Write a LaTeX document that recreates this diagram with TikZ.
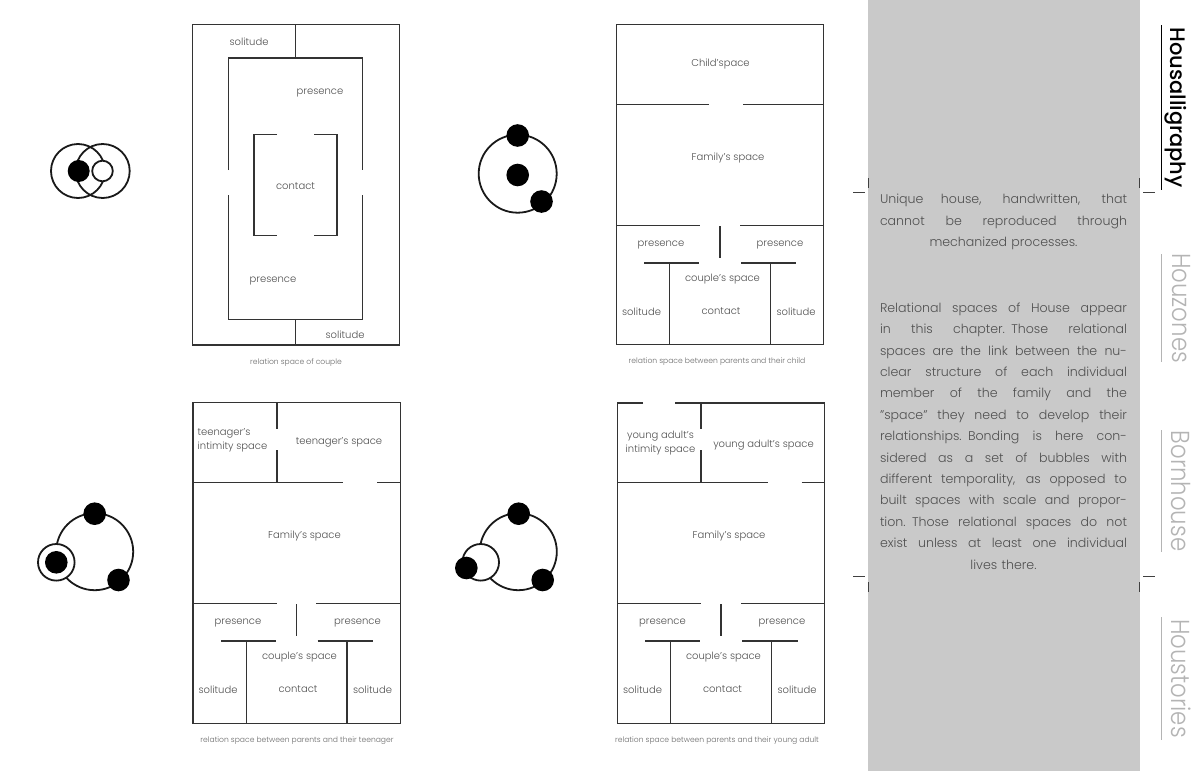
\documentclass[tikz,border=0pt]{standalone}
\usepackage{fontspec}
\setmainfont{Poppins Light}
\newfontfamily\sidefont[FakeStretch=0.88]{Poppins Light}
\newfontfamily\sideboldfont{Poppins Medium}
\definecolor{panelgrey}{HTML}{C9C9C9}
\definecolor{labelgrey}{HTML}{505050}
\definecolor{tabgrey}{HTML}{B4B4B4}
\newcommand{\fillline}[1]{\leavevmode\hbox to 247pt{\spaceskip=0.2em plus 1fil #1}}
\tikzset{
  wall/.style={line width=1.5pt,color=black!80},
  ring/.style={line width=1.8pt,color=black!90},
  dot/.style={fill=black},
  roomlabel/.style={font=\fontsize{10}{14}\selectfont,color=labelgrey,align=center,inner sep=0pt,yshift=-1.5pt},
  caption/.style={font=\fontsize{7.6}{9}\selectfont,color=labelgrey!85,inner sep=0pt,yshift=-1pt},
  bodytext/.style={font=\fontsize{12.6}{21.4}\selectfont,color=labelgrey,align=center,text width=247pt,inner sep=0pt},
  tab/.style={rotate=-90,inner sep=0pt,color=tabgrey,font=\sidefont\fontsize{26}{28}\selectfont},
  crop/.style={line width=0.9pt,color=black!75},
}
\begin{document}
\begin{tikzpicture}[x=1pt,y=-1pt]
  \useasboundingbox (0,0) rectangle (1200,771);
  \fill[panelgrey] (868,0) rectangle (1140,771);

  % bubbles
  \draw[ring] (78,171) circle (27);
  \draw[ring] (102.7,171) circle (27);
  \fill[dot] (78.7,171) circle (11);
  \draw[ring,fill=white] (102.5,171) circle (10.3);

  \draw[ring] (517.7,173.7) circle (39);
  \foreach \x/\y in {517.7/135.5, 517.7/175, 541.5/201.5} {
    \fill[dot] (\x,\y) circle (11.3);
  }

  \draw[ring] (94.7,551.7) circle (38.5);
  \foreach \x/\y in {94.7/513.7, 118.5/580} {
    \fill[dot] (\x,\y) circle (11.3);
  }
  \draw[ring,fill=white] (56.3,562.3) circle (18.3);
  \fill[dot] (56.3,562.3) circle (11.3);

  \draw[ring] (518.3,551.7) circle (38.5);
  \foreach \x/\y in {518.7/513.7, 542.7/580} {
    \fill[dot] (\x,\y) circle (11.3);
  }
  \draw[ring,fill=white] (480.7,562.3) circle (18.3);
  \fill[dot] (466.3,568) circle (11.3);

  % couple
  \draw[wall] (192.5,24.5) rectangle (399.5,345);
  \draw[wall] (295.5,24.5) -- (295.5,58);
  \draw[wall] (228.5,170) -- (228.5,58) -- (362.5,58) -- (362.5,170);
  \draw[wall] (228.5,195) -- (228.5,319.5) -- (362.5,319.5) -- (362.5,195);
  \draw[wall] (295.5,319.5) -- (295.5,345);
  \draw[wall] (277,134.5) -- (254,134.5) -- (254,235.5) -- (277,235.5);
  \draw[wall] (314,134.5) -- (337,134.5) -- (337,235.5) -- (314,235.5);
  \node[roomlabel] (solitudeA) at (249,40) {solitude};
  \node[roomlabel] (presenceA) at (320,92) {presence};
  \node[roomlabel] (contactA) at (295.5,185) {contact};
  \node[roomlabel] (presenceB) at (273,280) {presence};
  \node[roomlabel] (solitudeB) at (345,333) {solitude};
  \node[caption] (captionA) at (296,362) {relation space of couple};

  % parents and child
  \draw[wall] (616.5,24.5) rectangle (823.5,344.5);
  \draw[wall] (616.5,104.5) -- (709,104.5);
  \draw[wall] (743,104.5) -- (823.5,104.5);
  \draw[wall] (616.5,225.5) -- (700,225.5);
  \draw[wall] (740,225.5) -- (823.5,225.5);
  \draw[wall] (720,226) -- (720,258);
  \draw[wall] (644,263) -- (699,263);
  \draw[wall] (741,263) -- (796,263);
  \draw[wall] (669.5,263) -- (669.5,344.5);
  \draw[wall] (770.5,263) -- (770.5,344.5);
  \node[roomlabel] (childC) at (720.5,63) {Child'space};
  \node[roomlabel] (familyC) at (728,157) {Family's space};
  \node[roomlabel] (presenceC) at (661,244) {presence};
  \node[roomlabel] (presenceD) at (780,244) {presence};
  \node[roomlabel] (coupleC) at (722.5,278) {couple's space};
  \node[roomlabel] (solitudeC) at (641.5,310) {solitude};
  \node[roomlabel] (contactC) at (721,310) {contact};
  \node[roomlabel] (solitudeD) at (796,310) {solitude};
  \node[caption] (captionC) at (717,361) {relation space between parents and their child};

  % parents and teenager
  \draw[wall] (193,402.7) rectangle (400.5,723.3);
  \draw[wall] (277,402.7) -- (277,429);
  \draw[wall] (277,450) -- (277,482.7);
  \draw[wall] (193,482.7) -- (343,482.7);
  \draw[wall] (377,482.7) -- (400.5,482.7);
  \draw[wall] (193,603.5) -- (277,603.5);
  \draw[wall] (316,603.5) -- (400.5,603.5);
  \draw[wall] (296.7,604) -- (296.7,636);
  \draw[wall] (221,641) -- (276,641);
  \draw[wall] (317.5,641) -- (373,641);
  \draw[wall] (246.5,641) -- (246.5,723.3);
  \draw[wall] (347,641) -- (347,723.3);
  \node[roomlabel,align=left] (intimityT) at (232.5,439) {teenager's\\intimity space};
  \node[roomlabel] (spaceT) at (339,441) {teenager's space};
  \node[roomlabel] (familyT) at (304.5,535) {Family's space};
  \node[roomlabel] (presenceT) at (238,622) {presence};
  \node[roomlabel] (presenceU) at (357.5,622) {presence};
  \node[roomlabel] (coupleT) at (299.5,656) {couple's space};
  \node[roomlabel] (solitudeT) at (218,688) {solitude};
  \node[roomlabel] (contactT) at (298,688) {contact};
  \node[roomlabel] (solitudeU) at (372.5,688) {solitude};
  \node[caption] (captionT) at (297,739.5) {relation space between parents and their teenager};

  % parents and young adult
  \draw[wall] (643,403) -- (617.5,403) -- (617.5,723.3) -- (824.5,723.3) -- (824.5,403) -- (675,403);
  \draw[wall] (701,402.7) -- (701,429);
  \draw[wall] (701,450) -- (701,482.7);
  \draw[wall] (617.5,482.7) -- (768,482.7);
  \draw[wall] (801.5,482.7) -- (824.5,482.7);
  \draw[wall] (617.5,603.5) -- (701,603.5);
  \draw[wall] (741,603.5) -- (824.5,603.5);
  \draw[wall] (721,604) -- (721,636);
  \draw[wall] (645,641) -- (700,641);
  \draw[wall] (742,641) -- (798,641);
  \draw[wall] (670.5,641) -- (670.5,723.3);
  \draw[wall] (771.5,641) -- (771.5,723.3);
  \node[roomlabel] (intimityY) at (660.5,442) {young adult's\\intimity space};
  \node[roomlabel] (spaceY) at (763.5,444) {young adult's space};
  \node[roomlabel] (familyY) at (729,535) {Family's space};
  \node[roomlabel] (presenceY) at (662.5,622) {presence};
  \node[roomlabel] (presenceZ) at (782,622) {presence};
  \node[roomlabel] (coupleY) at (723.5,656) {couple's space};
  \node[roomlabel] (solitudeY) at (642.5,688) {solitude};
  \node[roomlabel] (contactY) at (722.5,688) {contact};
  \node[roomlabel] (solitudeZ) at (797,688) {solitude};
  \node[caption] (captionY) at (717,739.5) {relation space between parents and their young adult};

  % crop marks
  \foreach \x in {868,1139.5} {
    \draw[crop] (\x,178) -- (\x,188);
    \draw[crop] (\x,582) -- (\x,592);
  }
  \foreach \y in {192.7,576} {
    \draw[crop] (853,\y) -- (865,\y);
    \draw[crop] (1143,\y) -- (1155,\y);
  }

  % panel text
  \node[bodytext] (intro) at (1003.5,222) {
    \fillline{Unique house, handwritten, that}\\
    \fillline{cannot be reproduced through}\\
    mechanized processes.};
  \node[bodytext] (relational) at (1003.5,436) {
    \fillline{Relational spaces of House appear}\\
    \fillline{in this chapter. Those relational}\\
    \fillline{spaces are the link between the nu-}\\
    \fillline{clear structure of each individual}\\
    \fillline{member of the family and the}\\
    \fillline{"space" they need to develop their}\\
    \fillline{relationships. Bonding is here con-}\\
    \fillline{sidered as a set of bubbles with}\\
    \fillline{different temporality, as opposed to}\\
    \fillline{built spaces with scale and propor-}\\
    \fillline{tion. Those relational spaces do not}\\
    \fillline{exist unless at least one individual}\\
    lives there.};

  % chapter tabs
  \node[tab,color=black,font=\sideboldfont\fontsize{21}{24}\selectfont] (housalligraphy) at (1176,107.5) {Housalligraphy};
  \node[tab] (houzones) at (1181,308) {Houzones};
  \node[tab] (bornhouse) at (1181,491) {Bornhouse};
  \node[tab] (houstories) at (1181,678.5) {Houstories};
  \draw[line width=1.8pt] (1161.5,25) -- (1161.5,190);
  \foreach \a/\b in {254/362, 430/552, 617/740} {
    \draw[line width=0.9pt,color=tabgrey] (1161.5,\a) -- (1161.5,\b);
  }
\end{tikzpicture}
\end{document}
